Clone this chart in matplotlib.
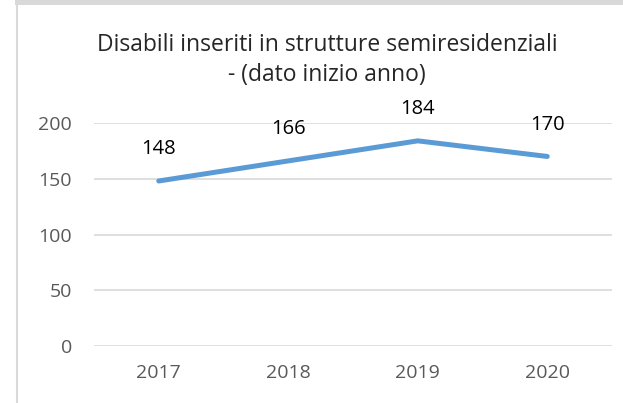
import matplotlib.pyplot as plt
from matplotlib.patches import Rectangle
from matplotlib.lines import Line2D

years = ["2017", "2018", "2019", "2020"]
values = [148, 166, 184, 170]
y_ticks = [0, 50, 100, 150, 200]
title = "Disabili inseriti in strutture semiresidenziali\n- (dato inizio anno)"

plt.rcParams['font.family'] = ['Open Sans', 'DejaVu Sans']

W, H = 623, 403
fig = plt.figure(figsize=(W / 100, H / 100), dpi=100)

# chart frame (excel style border)
fig.add_artist(Rectangle((15 / W, 1 - 5 / H), 1, 5 / H, transform=fig.transFigure,
                         facecolor='#d9d9d9', edgecolor='none'))
fig.add_artist(Line2D([17 / W, 17 / W], [0, 1], transform=fig.transFigure,
                      color='#d9d9d9', lw=1.5))

ax = fig.add_axes([94 / W, 57 / H, 518 / W, 223 / H])
x = range(len(years))
ax.plot(x, values, color='#5b9bd5', lw=3.6, solid_capstyle='round', zorder=3)
for xi, v in zip(x, values):
    ax.annotate(str(v), (xi, v), xytext=(0, 23), textcoords='offset points',
                ha='center', va='center', fontsize=14.5, color='black')

ax.set_xlim(-0.5, len(years) - 0.5)
ax.set_ylim(0, 200)
ax.set_xticks(list(x))
ax.set_xticklabels(years)
ax.set_yticks(y_ticks)
ax.tick_params(axis='both', length=0, labelsize=14, labelcolor='#595959')
ax.tick_params(axis='y', pad=16)
ax.tick_params(axis='x', pad=13)
ax.grid(axis='y', color='#d9d9d9', lw=1.2)
ax.set_axisbelow(True)
for s in ax.spines.values():
    s.set_visible(False)

fig.text(327 / W, 1 - 60 / H, title, ha='center', va='center', fontsize=16.5,
         color='#262626', linespacing=1.38)

fig.savefig("out.png", dpi=100)
